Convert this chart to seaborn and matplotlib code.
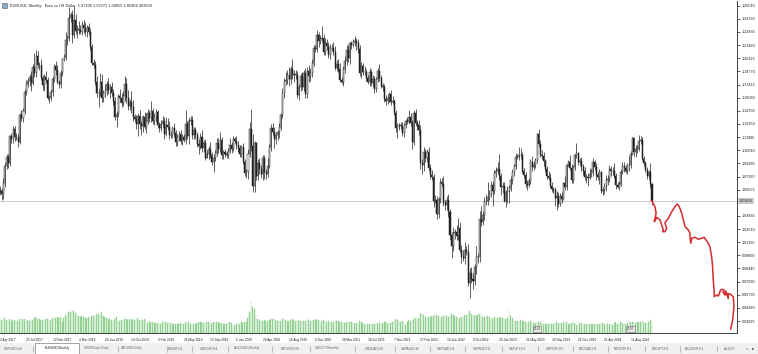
import numpy as np
import pandas as pd
import matplotlib
matplotlib.use("Agg")
import matplotlib.pyplot as plt
import seaborn as sns

sns.set_theme(style="white")
plt.rcParams['font.family'] = ['Liberation Sans', 'DejaVu Sans']

# ---------------- data (weekly EURUSD, week starting 2 Apr 2017 .. 10 Nov 2024) -------------
first_open = 1.0652
close_2017 = [1.0640, 1.0615, 1.0727, 1.0897, 1.0998, 1.0935, 1.1206, 1.1182, 1.1280, 1.1196,
              1.1197, 1.1150, 1.1426, 1.1400, 1.1470, 1.1665, 1.1752, 1.1774, 1.1821, 1.1760,
              1.1924, 1.1860, 1.2035, 1.1943, 1.1948, 1.1814, 1.1733, 1.1822, 1.1785, 1.1607,
              1.1607, 1.1664, 1.1796, 1.1932, 1.1896, 1.1772, 1.1749, 1.1858, 1.2005, 1.2029]
close_2018 = [1.2199, 1.2222, 1.2427, 1.2461, 1.2254, 1.2406, 1.2295, 1.2316, 1.2307, 1.2288,
              1.2352, 1.2324, 1.2282, 1.2330, 1.2288, 1.2130, 1.1960, 1.1940, 1.1772, 1.1653,
              1.1658, 1.1768, 1.1607, 1.1655, 1.1684, 1.1748, 1.1686, 1.1720, 1.1657, 1.1568,
              1.1410, 1.1436, 1.1623, 1.1600, 1.1553, 1.1622, 1.1748, 1.1604, 1.1524, 1.1560,
              1.1511, 1.1403, 1.1388, 1.1335, 1.1417, 1.1337, 1.1316, 1.1408, 1.1306, 1.1369,
              1.1445, 1.1395]
close_2019 = [1.1468, 1.1366, 1.1406, 1.1457, 1.1325, 1.1296, 1.1336, 1.1366, 1.1234, 1.1326,
              1.1301, 1.1218, 1.1216, 1.1297, 1.1246, 1.1151, 1.1200, 1.1234, 1.1159, 1.1204,
              1.1168, 1.1334, 1.1209, 1.1370, 1.1372, 1.1224, 1.1270, 1.1218, 1.1127, 1.1108,
              1.1202, 1.1091, 1.1143, 1.0989, 1.1027, 1.1074, 1.1018, 1.0940, 1.0979, 1.1040,
              1.1143, 1.1081, 1.1166, 1.1018, 1.1051, 1.1023, 1.1017, 1.1059, 1.1122, 1.1079,
              1.1176, 1.1159]
close_2020 = [1.1121, 1.1091, 1.1027, 1.1093, 1.0944, 1.0830, 1.0848, 1.1026, 1.1283, 1.1106,
              1.0693, 1.1141, 1.0802, 1.0936, 1.0875, 1.0821, 1.0981, 1.0838, 1.0818, 1.0900,
              1.1101, 1.1290, 1.1257, 1.1178, 1.1219, 1.1247, 1.1300, 1.1427, 1.1655, 1.1778,
              1.1786, 1.1842, 1.1795, 1.1906, 1.1838, 1.1846, 1.1838, 1.1632, 1.1715, 1.1826,
              1.1716, 1.1859, 1.1646, 1.1876, 1.1833, 1.1857, 1.1962, 1.2122, 1.2113, 1.2256,
              1.2188, 1.2216]
close_2021 = [1.2219, 1.2078, 1.2170, 1.2136, 1.2045, 1.2118, 1.2120, 1.2075, 1.1915, 1.1950,
              1.1906, 1.1793, 1.1765, 1.1900, 1.1985, 1.2100, 1.2018, 1.2165, 1.2145, 1.2180,
              1.2193, 1.2169, 1.2106, 1.1860, 1.1935, 1.1866, 1.1875, 1.1810, 1.1771, 1.1870,
              1.1760, 1.1796, 1.1697, 1.1794, 1.1880, 1.1813, 1.1726, 1.1718, 1.1594, 1.1575,
              1.1600, 1.1644, 1.1558, 1.1567, 1.1444, 1.1290, 1.1317, 1.1316, 1.1316, 1.1240,
              1.1320, 1.1370]
close_2022 = [1.1360, 1.1410, 1.1344, 1.1146, 1.1453, 1.1350, 1.1322, 1.1270, 1.0930, 1.0915,
              1.1050, 1.0985, 1.1050, 1.0877, 1.0810, 1.0790, 1.0545, 1.0550, 1.0410, 1.0565,
              1.0734, 1.0720, 1.0518, 1.0495, 1.0555, 1.0430, 1.0185, 1.0080, 1.0210, 1.0220,
              1.0180, 1.0260, 1.0040, 0.9965, 0.9955, 1.0040, 1.0015, 0.9690, 0.9800, 0.9740,
              0.9720, 0.9860, 0.9965, 0.9960, 1.0355, 1.0325, 1.0400, 1.0535, 1.0540, 1.0585,
              1.0615, 1.0705]
close_2023 = [1.0645, 1.0830, 1.0855, 1.0870, 1.0795, 1.0680, 1.0695, 1.0545, 1.0635, 1.0640,
              1.0670, 1.0760, 1.0840, 1.0900, 1.0990, 1.0990, 1.1015, 1.1020, 1.0850, 1.0805,
              1.0720, 1.0710, 1.0750, 1.0940, 1.0895, 1.0910, 1.0965, 1.1230, 1.1125, 1.1015,
              1.1005, 1.0950, 1.0870, 1.0795, 1.0775, 1.0700, 1.0660, 1.0650, 1.0575, 1.0590,
              1.0510, 1.0595, 1.0565, 1.0730, 1.0685, 1.0915, 1.0940, 1.0885, 1.0760, 1.0895,
              1.1010, 1.1040]
close_2024 = [1.0940, 1.0950, 1.0895, 1.0850, 1.0785, 1.0785, 1.0775, 1.0820, 1.0840, 1.0940,
              1.0890, 1.0805, 1.0790, 1.0835, 1.0640, 1.0655, 1.0695, 1.0760, 1.0770, 1.0870,
              1.0845, 1.0850, 1.0800, 1.0705, 1.0690, 1.0715, 1.0840, 1.0905, 1.0880, 1.0855,
              1.0910, 1.0915, 1.1030, 1.1195, 1.1050, 1.1080, 1.1075, 1.1160, 1.1165, 1.0975,
              1.0935, 1.0865, 1.0795, 1.0835, 1.0711, 1.05404]

# upper / lower wick lengths beyond the body, in units of 0.001
up_2017 = [4, 3, 5, 5, 3, 3, 2, 4, 3, 3, 4, 3, 2, 5, 3, 3, 4, 3, 3, 6, 3, 14, 6, 5, 3, 6, 3, 3, 6, 3,
           3, 3, 3, 2, 5, 5, 2, 3, 1, 3]
lo_2017 = [4, 6, 5, 4, 3, 5, 3, 4, 4, 4, 3, 5, 2, 3, 4, 3, 3, 4, 5, 8, 2, 4, 4, 3, 5, 3, 5, 6, 3, 3,
           6, 4, 4, 3, 6, 3, 4, 4, 3, 2]
up_2018 = [8, 3, 11, 3, 5, 15, 6, 4, 8, 5, 4, 6, 6, 3, 5, 4, 3, 5, 4, 6, 4, 9, 8, 3, 6, 3, 6, 3, 5, 4,
           5, 3, 2, 7, 5, 5, 8, 6, 8, 3, 11, 7, 3, 4, 3, 6, 3, 2, 5, 8, 4, 3]
lo_2018 = [3, 5, 3, 4, 8, 3, 3, 7, 4, 3, 4, 5, 4, 5, 4, 3, 2, 3, 4, 4, 14, 3, 5, 5, 4, 5, 4, 8, 3, 4,
           3, 11, 3, 4, 4, 3, 5, 5, 5, 5, 6, 4, 3, 5, 12, 5, 9, 6, 2, 6, 3, 4]
up_2019 = [10, 3, 4, 3, 2, 3, 4, 5, 4, 8, 7, 6, 4, 2, 5, 3, 3, 3, 4, 3, 3, 14, 3, 4, 4, 5, 3, 3, 3, 5,
           4, 7, 3, 4, 4, 3, 7, 3, 5, 3, 5, 5, 9, 3, 2, 3, 3, 3, 7, 3, 3, 2]
lo_2019 = [4, 3, 4, 5, 3, 4, 3, 4, 5, 2, 3, 4, 3, 3, 5, 4, 4, 4, 3, 4, 2, 4, 3, 8, 5, 4, 4, 4, 3, 8,
           3, 4, 5, 3, 1, 5, 3, 3, 10, 3, 4, 5, 3, 4, 4, 3, 3, 3, 2, 4, 2, 2]
up_2020 = [5, 4, 3, 3, 5, 3, 2, 5, 7, 21, 13, 2, 1, 4, 5, 4, 3, 3, 3, 8, 3, 4, 5, 5, 3, 3, 5, 2, 5, 3,
           8, 5, 8, 3, 10, 5, 5, 4, 3, 3, 4, 3, 5, 5, 7, 5, 4, 3, 3, 5, 3, 4]
lo_2020 = [4, 4, 3, 3, 2, 3, 5, 8, 3, 5, 6, 6, 4, 5, 6, 4, 6, 7, 5, 3, 2, 4, 4, 9, 5, 5, 6, 3, 3, 5,
           4, 4, 7, 5, 4, 7, 4, 3, 5, 4, 3, 4, 4, 4, 7, 5, 4, 3, 4, 4, 6, 3]
up_2021 = [13, 4, 5, 4, 4, 4, 4, 6, 6, 4, 5, 6, 3, 3, 5, 5, 5, 2, 3, 3, 5, 3, 4, 4, 4, 3, 6, 3, 3, 4,
           3, 4, 3, 3, 3, 7, 3, 3, 3, 4, 4, 2, 4, 6, 3, 3, 3, 3, 4, 4, 3, 2]
lo_2021 = [4, 3, 3, 4, 3, 4, 3, 3, 2, 3, 4, 3, 2, 4, 4, 4, 4, 6, 4, 2, 4, 7, 4, 3, 5, 3, 3, 3, 2, 4,
           3, 4, 4, 3, 3, 3, 2, 4, 3, 4, 3, 4, 3, 2, 2, 4, 10, 4, 3, 3, 4, 3]
up_2022 = [4, 7, 4, 3, 3, 4, 3, 5, 5, 4, 5, 3, 3, 5, 4, 5, 3, 5, 4, 2, 4, 4, 8, 3, 4, 6, 3, 4, 6, 3,
           7, 11, 6, 5, 7, 8, 4, 8, 5, 6, 6, 3, 11, 4, 8, 13, 4, 5, 7, 15, 4, 4]
lo_2022 = [3, 3, 3, 7, 3, 4, 5, 5, 6, 10, 7, 4, 4, 3, 4, 3, 7, 3, 6, 4, 5, 3, 3, 5, 5, 5, 4, 13, 6, 6,
           4, 4, 3, 6, 3, 6, 3, 3, 15, 5, 9, 5, 7, 6, 5, 4, 3, 6, 4, 4, 3, 3]
up_2023 = [4, 3, 4, 7, 16, 3, 4, 4, 2, 6, 4, 4, 3, 2, 5, 4, 8, 7, 3, 3, 3, 4, 3, 3, 6, 4, 2, 1, 5, 4,
           5, 4, 2, 3, 6, 5, 4, 3, 4, 5, 4, 3, 4, 1, 7, 1, 2, 8, 4, 2, 2, 10]
lo_2023 = [16, 3, 4, 4, 4, 8, 6, 1, 7, 11, 12, 3, 4, 4, 3, 2, 3, 4, 2, 3, 3, 6, 3, 3, 4, 3, 3, 3, 3, 2,
           3, 5, 3, 3, 2, 3, 3, 3, 9, 13, 3, 2, 4, 1, 3, 3, 1, 2, 3, 3, 3, 3]
up_2024 = [1, 3, 4, 3, 4, 3, 4, 6, 3, 4, 2, 4, 3, 4, 2, 3, 3, 5, 4, 4, 3, 4, 8, 3, 3, 3, 3, 4, 4, 3,
           2, 9, 3, 1, 1, 4, 4, 6, 5, 4, 3, 2, 3, 3, 10, 1.6]
lo_2024 = [3, 3, 4, 4, 3, 6, 8, 1, 3, 4, 3, 5, 3, 7, 2, 4, 4, 5, 5, 3, 5, 4, 2, 4, 2, 4, 2, 2, 4, 3,
           4, 6, 3, 2, 5, 6, 4, 2, 3, 1, 3, 3, 3, 3, 4, 4.5]

# tick volume (thousands)
vol_2017 = [450, 480, 520, 560, 500, 470, 520, 460, 480, 500, 480, 470, 540, 480, 530, 520, 470, 500,
            470, 520, 480, 560, 620, 540, 520, 510, 480, 470, 530, 520, 460, 480, 560, 600, 570, 610,
            580, 620, 400, 560]
vol_2018 = [680, 720, 780, 800, 870, 840, 760, 700, 640, 600, 650, 620, 560, 580, 600, 620, 640, 660,
            700, 720, 740, 700, 780, 640, 600, 560, 540, 520, 500, 480, 520, 600, 500, 440, 480, 500,
            540, 520, 500, 520, 500, 540, 500, 520, 560, 500, 480, 500, 520, 480, 380, 420]
vol_2019 = [420, 400, 380, 390, 380, 360, 350, 400, 420, 400, 380, 390, 370, 360, 340, 330, 350, 360,
            380, 350, 340, 420, 380, 400, 360, 380, 360, 350, 370, 400, 420, 400, 380, 380, 400, 420,
            380, 390, 400, 420, 430, 400, 390, 380, 360, 340, 330, 380, 400, 390, 280, 300]
vol_2020 = [360, 380, 360, 400, 380, 420, 400, 560, 800, 1220, 1000, 900, 700, 540, 480, 460, 470, 480,
            460, 440, 500, 520, 540, 520, 480, 460, 440, 460, 520, 560, 500, 460, 440, 480, 520, 480,
            470, 460, 500, 450, 440, 460, 470, 560, 500, 460, 480, 500, 500, 520, 480, 380]
vol_2021 = [460, 480, 440, 420, 440, 420, 400, 420, 480, 460, 440, 420, 430, 400, 380, 400, 410, 420,
            430, 400, 390, 380, 380, 460, 420, 380, 360, 340, 350, 350, 360, 340, 330, 350, 370, 380,
            360, 380, 400, 400, 380, 360, 370, 400, 460, 520, 480, 440, 430, 460, 420, 320]
vol_2022 = [420, 480, 460, 500, 540, 560, 540, 580, 720, 760, 680, 620, 640, 600, 620, 640, 660, 680,
            700, 640, 620, 600, 660, 680, 640, 620, 700, 720, 680, 640, 600, 580, 560, 600, 620, 700,
            680, 760, 820, 740, 700, 680, 660, 700, 720, 680, 600, 620, 640, 660, 600, 480]
vol_2023 = [560, 600, 580, 560, 620, 580, 560, 540, 520, 580, 880, 640, 560, 480, 460, 440, 460, 480,
            460, 440, 420, 410, 420, 460, 400, 380, 380, 440, 420, 400, 390, 360, 350, 340, 360, 370,
            360, 350, 380, 400, 390, 380, 370, 400, 380, 400, 360, 350, 380, 400, 380, 300]
vol_2024 = [320, 380, 370, 360, 350, 350, 360, 340, 330, 360, 350, 340, 330, 340, 380, 390, 360, 350,
            360, 350, 340, 320, 380, 400, 360, 340, 420, 380, 360, 350, 380, 480, 400, 420, 400, 380,
            400, 420, 410, 440, 400, 390, 380, 400, 480, 404]

# hand-drawn projection (red line): week offset from first bar, price
proj_week = [396.8, 398.8, 399.5, 398.4, 399.9, 401.9, 402.9, 403.9, 403.5, 404.9, 405.9, 404.9, 406.9,
             409.0, 411.0, 412.4, 413.6, 415.1, 417.1, 419.1, 420.1, 420.1, 420.6, 421.2, 423.2, 425.2,
             427.3, 428.7, 429.9, 430.7, 431.3, 432.3, 433.3, 433.9, 434.3, 434.8, 434.9, 436.4, 437.4,
             438.8, 440.1, 442.1, 443.5, 443.1, 441.4, 440.1, 442.1, 444.5, 446.5, 446.9, 446.1, 444.9]
proj_price = [1.0544, 1.0482, 1.0414, 1.0327, 1.0372, 1.0345, 1.0293, 1.0242, 1.0224, 1.0224, 1.0259,
              1.0317, 1.0362, 1.0430, 1.0482, 1.0510, 1.0482, 1.0414, 1.0276, 1.0242, 1.0210, 1.0172,
              1.0104, 1.0156, 1.0166, 1.0146, 1.0156, 1.0166, 1.0138, 1.0121, 1.0104, 1.0069, 0.9966,
              0.9863, 0.9726, 0.9623, 0.9554, 0.9571, 0.9561, 0.9623, 0.9630, 0.9605, 0.9537, 0.9582,
              0.9571, 0.9605, 0.9582, 0.9582, 0.9554, 0.9451, 0.9313, 0.9218]

price_ticks = ["0.93025", "0.94380", "0.95735", "0.97090", "0.98445", "0.99800", "1.01155", "1.02510",
               "1.03865", "1.05220", "1.06575", "1.07930", "1.09285", "1.10640", "1.11995", "1.13350",
               "1.14705", "1.16060", "1.17415", "1.18770", "1.20125", "1.21480", "1.22835", "1.24190",
               "1.25545"]
title_text = "EURUSD, Weekly:  Euro vs US Dollar  1.07109 1.07271 1.04955 1.05404 403904"
tabs = ["GBPUSD,H4", "EURUSD,Weekly", "US500Cash,Daily", "XAUUSD,Daily", "BRENT,H1", "USDCHF,H4",
        "AUDUSD,Weekly", "NZDUSD,H4", "USDJPY,Monthly", "USDCAD,H4", "GBPAUD,H4", "GBPCAD,H1",
        "GBPNZD,H1", "GBPJPY,H1", "GBPCHF,H1", "NZDCAD,H1", "NZDCHF,H1", "NZDJPY,H1", "AUDCHF,H1",
        "AUDJP"]
tab_x = [13, 57, 97, 132, 176, 209, 247, 290, 327, 374, 410, 446, 482, 518, 555, 588, 623, 660, 694, 729]
tab_sep = [33, 118, 167, 192, 228, 272, 310, 355, 395, 430, 465, 502, 538, 573, 608, 645, 680, 717]
marker_labels = ["20:00", "20:00"]
marker_week = [327, 384]

# ---------------- assemble ----------------
close = np.array(close_2017 + close_2018 + close_2019 + close_2020 + close_2021 + close_2022 +
                 close_2023 + close_2024)
up = np.array(up_2017 + up_2018 + up_2019 + up_2020 + up_2021 + up_2022 + up_2023 + up_2024) / 1000
lo = np.array(lo_2017 + lo_2018 + lo_2019 + lo_2020 + lo_2021 + lo_2022 + lo_2023 + lo_2024) / 1000
vol = np.array(vol_2017 + vol_2018 + vol_2019 + vol_2020 + vol_2021 + vol_2022 + vol_2023 + vol_2024)
n = len(close)
opn = np.concatenate([[first_open], close[:-1]])
high = np.maximum(opn, close) + up[:n]
low = np.minimum(opn, close) - lo[:n]
idx = np.arange(n)
dates = pd.date_range("2017-04-02", periods=n, freq="7D")
df = pd.DataFrame({"i": idx, "open": opn, "close": close, "high": high, "low": low, "vol": vol[:n]})

W, H = 758, 354
fig = plt.figure(figsize=(W / 100, H / 100), dpi=100)
fig.patch.set_facecolor("white")

ax_l, ax_r, ax_t, ax_b = 0, 737, 1, 333
pos = [ax_l / W, 1 - ax_b / H, (ax_r - ax_l) / W, (ax_b - ax_t) / H]
px_per_week = 1.643
x0 = 0.3 / px_per_week
xlim = (x0, x0 + (ax_r - ax_l) / px_per_week)
pp = 0.01355 / 13.14
ylim = (1.25545 - (ax_b - 5.7) * pp, 1.25545 + (5.7 - ax_t) * pp)

# volume axes (behind)
vax = fig.add_axes(pos)
sns.barplot(data=df, x="i", y="vol", native_scale=True, color="#9ad69a", saturation=1,
            width=0.45, errorbar=None, edgecolor="#8acd8a", linewidth=0.25, ax=vax)
vax.set_xlim(*xlim)
vax.set_ylim(0, 38 * (ax_b - ax_t))
vax.axis("off")

ax = fig.add_axes(pos)
ax.set_facecolor("none")
ax.set_xlim(*xlim)
ax.set_ylim(*ylim)

# current price line
last = close[-1]
ax.axhline(last, color="#c8c8c8", lw=0.7, zorder=1)

# candles
ax.vlines(df["i"], df["low"], df["high"], color="#202020", lw=0.5, zorder=3)
bull = df["close"] >= df["open"]
body_lo = np.minimum(df["open"], df["close"])
body_h = np.maximum(np.abs(df["close"] - df["open"]), 0.0004)
ax.bar(df["i"][bull], body_h[bull], bottom=body_lo[bull], width=0.62, color="white",
       edgecolor="#202020", linewidth=0.35, zorder=4)
ax.bar(df["i"][~bull], body_h[~bull], bottom=body_lo[~bull], width=0.62, color="#202020",
       edgecolor="#202020", linewidth=0.35, zorder=4)

# projection line
proj = pd.DataFrame({"w": proj_week, "p": proj_price})
sns.lineplot(data=proj, x="w", y="p", sort=False, estimator=None, color="#d42a2a", lw=1.1,
             ax=ax, zorder=5)
ax.set_xlabel("")
ax.set_ylabel("")

# small time markers near the bottom
for lab, w in zip(marker_labels, marker_week):
    ax.text(w, ylim[0] + 4 * pp, lab, fontsize=2.0, ha="center", va="center", color="#303030",
            zorder=6, bbox=dict(boxstyle="square,pad=0.25", fc="#e8e8e8", ec="#707070", lw=0.4))

# spines
for s in ["left", "top"]:
    ax.spines[s].set_visible(False)
for s in ["right", "bottom"]:
    ax.spines[s].set_color("#404040")
    ax.spines[s].set_linewidth(0.7)

# price axis
ax.yaxis.tick_right()
tvals = [float(t) for t in price_ticks]
ax.set_yticks(tvals)
ax.set_yticklabels([t if abs(float(t) - last) > 0.005 else "" for t in price_ticks])
ax.tick_params(axis="y", length=2.5, width=0.5, pad=0.8, labelsize=2.7, colors="#202020")
ax.text(1.0 + 2 / (ax_r - ax_l), last, f"{last:.5f}", transform=ax.get_yaxis_transform(),
        fontsize=2.7, va="center", ha="left", color="#303030",
        bbox=dict(boxstyle="square,pad=0.2", fc="#c8c8c8", ec="none"))

# time axis
tick_i = idx[::16]
ax.set_xticks(tick_i)
ax.set_xticklabels([f"{d.day} {d.strftime('%b %Y')}" for d in dates[::16]])
ax.tick_params(axis="x", length=2.5, width=0.5, pad=0.8, labelsize=2.3, colors="#202020")
for lbl in ax.get_xticklabels():
    lbl.set_horizontalalignment("left")

# title
fig.text(10 / W, 1 - 5.5 / H, title_text, fontsize=2.75, va="center", ha="left", color="#202020")
fig.patches.append(matplotlib.patches.Rectangle((2 / W, 1 - 8 / H), 5 / W, 5 / H,
                                                transform=fig.transFigure, fc="#8aa8c8",
                                                ec="#506070", lw=0.4))

# tabs bar
tax = fig.add_axes([0, 0, 1, 11 / H])
tax.set_xlim(0, W)
tax.set_ylim(11, 0)
tax.axis("off")
tax.add_patch(matplotlib.patches.Rectangle((0, 0), W, 11, fc="#f0f0f0", ec="none"))
tax.add_patch(matplotlib.patches.Rectangle((35, 0), 44, 10.5, fc="white", ec="#808080", lw=0.5))
for t, x in zip(tabs, tab_x):
    tax.text(x, 5.5, t, fontsize=2.3, ha="center", va="center",
             color="#101010" if t == "EURUSD,Weekly" else "#606060")
for x in tab_sep:
    tax.plot([x, x], [2.5, 8.5], color="#a0a0a0", lw=0.5)
tax.text(747, 5.5, "\u25c2", fontsize=3, ha="center", va="center", color="#909090",
         family=['DejaVu Sans'])
tax.text(753, 5.5, "\u25b8", fontsize=3, ha="center", va="center", color="#202020",
         family=['DejaVu Sans'])

fig.savefig("out.png", dpi=100, facecolor="white")
